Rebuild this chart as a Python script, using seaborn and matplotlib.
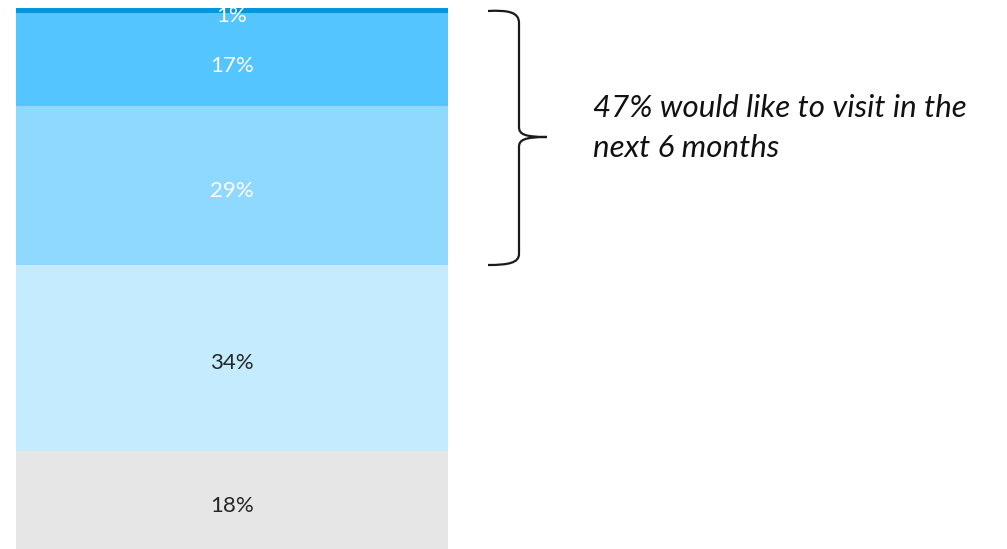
import matplotlib
matplotlib.use("Agg")
import matplotlib.pyplot as plt
from matplotlib.path import Path
from matplotlib.patches import PathPatch
from matplotlib.transforms import Affine2D
import numpy as np
import pandas as pd
import seaborn as sns

# Share of respondents, stacked bottom to top
segments = ["Not likely", "Maybe later", "Next 6 months", "Next 3 months", "This month"]
values = [18, 34, 29, 17, 1]
seg_colors = ["#E6E6E6", "#C4EBFE", "#8FD8FF", "#54C5FE", "#0097DE"]
label_colors = ["#262626", "#262626", "#FFFFFF", "#FFFFFF", "#FFFFFF"]
note_lines = ["47% would like to visit in the", "next 6 months"]

sns.set_theme(style="white")
plt.rcParams["font.family"] = ["Lato", "DejaVu Sans"]

W, H = 1007, 549
fig = plt.figure(figsize=(W / 100, H / 100), dpi=100)
ax = fig.add_axes([16 / W, 0, (448 - 16) / W, 541 / H])

cum = np.cumsum(values)
df = pd.DataFrame({"group": ["all"] * len(values), "segment": segments,
                   "value": values, "cum": cum})

# Overlapping cumulative bars, tallest first, give the stacked look
for i in range(len(values) - 1, -1, -1):
    sns.barplot(data=df.iloc[[i]], x="group", y="cum", color=seg_colors[i],
                width=1.0, saturation=1, ax=ax, edgecolor="none")

for i, (v, c) in enumerate(zip(values, cum)):
    ax.text(0, c - v / 2 - 1.05, f"{v}%", ha="center", va="center",
            fontsize=16, color=label_colors[i])

ax.set_xlim(-0.5, 0.5)
ax.set_ylim(0, cum[-1])
ax.axis("off")

# Curly brace beside the top three segments (pixel coordinates, y downward)
px = Affine2D().scale(1 / W, -1 / H).translate(0, 1) + fig.transFigure
verts = [(488, 11), (508, 10), (519, 12), (519, 23),
         (519, 127),
         (519, 134), (524, 137), (547, 137),
         (524, 137), (519, 140), (519, 147),
         (519, 254),
         (519, 263), (508, 265), (488, 265)]
codes = [Path.MOVETO, Path.CURVE4, Path.CURVE4, Path.CURVE4,
         Path.LINETO,
         Path.CURVE4, Path.CURVE4, Path.CURVE4,
         Path.CURVE4, Path.CURVE4, Path.CURVE4,
         Path.LINETO,
         Path.CURVE4, Path.CURVE4, Path.CURVE4]
brace = PathPatch(Path(verts, codes), transform=px, fill=False,
                  edgecolor="#1a1a1a", linewidth=1.6)
fig.patches.append(brace)

for k, line in enumerate(note_lines):
    fig.text(593 / W, 1 - (117 + 40 * k) / H, line, ha="left", va="baseline",
             fontsize=22.5, style="italic", color="#111111")

fig.savefig("out.png", dpi=100)
